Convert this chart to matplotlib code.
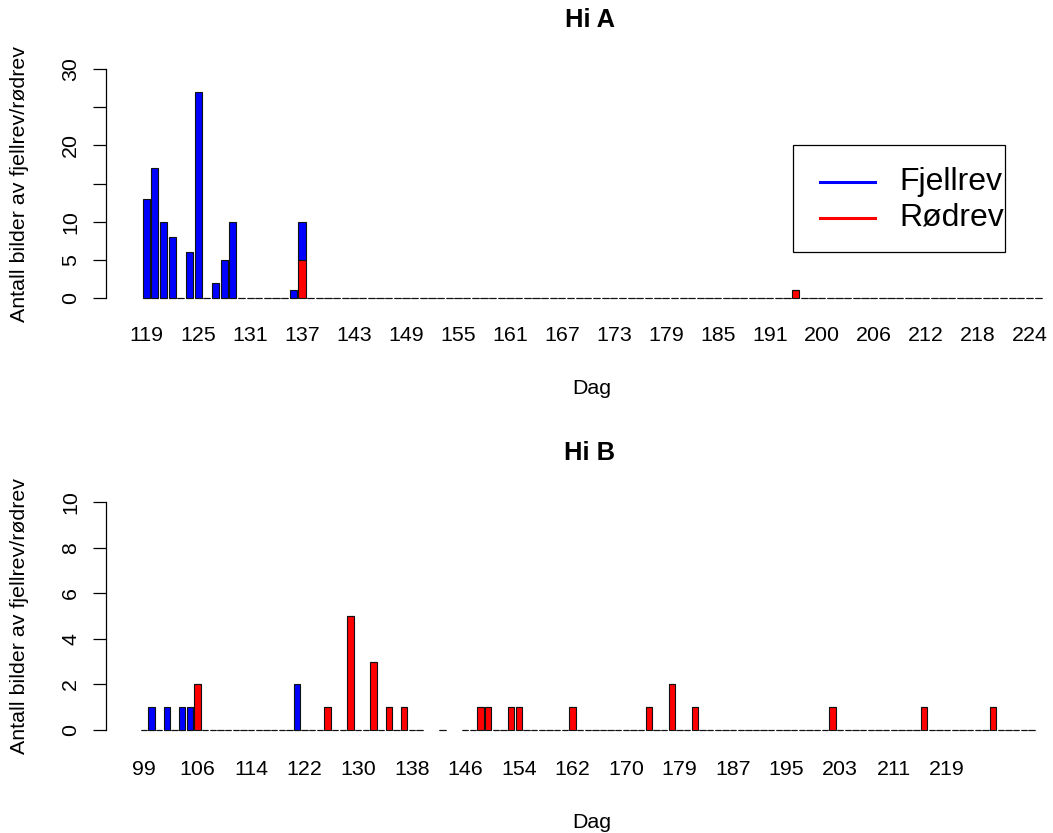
import matplotlib
matplotlib.use('Agg')
import matplotlib.pyplot as plt
from matplotlib.lines import Line2D
from matplotlib.patches import Rectangle
import numpy as np

W, H = 1053, 833
DPI = 100
plt.rcParams['font.family'] = ['Liberation Sans', 'DejaVu Sans']

# ---------------- data: Hi A ----------------
days_a = [119, 120, 121, 122, 123, 124, 125, 126, 127, 128, 129, 130, 131, 132, 133, 134,
          135, 136, 137, 138, 139, 140, 141, 142, 143, 144, 145, 146, 147, 148, 149, 150,
          151, 152, 153, 154, 155, 156, 157, 158, 159, 160, 161, 162, 163, 164, 165, 166,
          167, 168, 169, 170, 171, 172, 173, 174, 175, 176, 177, 178, 179, 180, 181, 182,
          183, 184, 185, 186, 187, 188, 189, 190, 191, 192, 193, 195, 196, 198, 200, 201,
          202, 203, 204, 205, 206, 207, 208, 209, 210, 211, 212, 213, 214, 215, 216, 217,
          218, 219, 220, 221, 222, 223, 224, 225]
fjell_a_days = [119, 120, 121, 122, 124, 125, 127, 128, 129, 136, 137]
fjell_a_vals = [13, 17, 10, 8, 6, 27, 2, 5, 10, 1, 5]
rod_a_days = [137, 195]
rod_a_vals = [5, 1]
xlab_a = [119, 125, 131, 137, 143, 149, 155, 161, 167, 173, 179, 185, 191, 200, 206,
          212, 218, 224]
yticks_a = [0, 5, 10, 15, 20, 25, 30]
ylabels_a = ['0', '5', '10', '', '20', '', '30']

# ---------------- data: Hi B ----------------
days_b = [99, 100, 101, 102, 103, 104, 105, 106,
          107, 108, 109, 111, 112, 113, 114,
          115, 116, 118, 119, 120, 121, 122,
          123, 124, 126, 127, 128, 129, 130,
          131, 132, 133, 134, 135, 137, 138,
          139, 140, 141, 142, 143, 145, 146,
          147, 148, 149, 150, 151, 153, 154,
          155, 156, 157, 158, 159, 161, 162,
          163, 164, 165, 166, 167, 169, 170,
          171, 172, 173, 175, 176, 178, 179,
          180, 181, 182, 183, 184, 186, 187,
          188, 189, 190, 191, 192, 194, 195,
          196, 197, 198, 199, 200, 202, 203,
          204, 205, 206, 207, 208, 210, 211,
          212, 213, 214, 215, 216, 218, 219,
          220, 221, 222, 223, 224, 225, 226, 227, 228, 229, 230]
missing_b = [140, 141, 143, 145]
fjell_b_days = [100, 102, 104, 105, 121]
fjell_b_vals = [1, 1, 1, 1, 2]
rod_b_days = [106, 126, 129, 132, 134, 137, 148, 149, 153, 154, 162, 173, 178, 181,
              202, 215, 225]
rod_b_vals = [2, 1, 5, 3, 1, 1, 1, 1, 1, 1, 1, 1, 2, 1, 1, 1, 1]
xlab_b = [99, 106, 114, 122, 130, 138, 146, 154, 162, 170, 179, 187, 195, 203, 211, 219]
yticks_b = [0, 2, 4, 6, 8, 10]
ylabels_b = ['0', '2', '4', '6', '8', '10']

series_names = ['Fjellrev', 'Rødrev']
series_colors = ['blue', 'red']

FS = 15.4      # R cex=1 at this resolution
FS_MAIN = 18.4
FS_LEG = 23

fig = plt.figure(figsize=(W / DPI, H / DPI), dpi=DPI)


def fx(x):
    return x / W


def fy(y):
    return 1 - y / H


def panel(top, bottom, days, fd, fv, rd, rv, missing, xlab, yt, yl, ylim, c0, s,
          title, ylab_y, title_y, dag_y, xpad):
    left_px, right_px = 106, 1075
    ax = fig.add_axes([fx(left_px), fy(bottom), (right_px - left_px) / W,
                       (bottom - top) / H])
    n = len(days)
    pos = {d: i for i, d in enumerate(days)}
    fj = np.zeros(n)
    rdv = np.zeros(n)
    for d, v in zip(fd, fv):
        fj[pos[d]] = v
    for d, v in zip(rd, rv):
        rdv[pos[d]] = v
    keep = np.array([d not in missing for d in days])
    idx = np.arange(n)
    bw = 1 / 1.2
    ax.bar(idx[keep], rdv[keep], width=bw, color=series_colors[1],
           edgecolor='#111111', linewidth=0.8, clip_on=False)
    ax.bar(idx[keep], fj[keep], bottom=rdv[keep], width=bw, color=series_colors[0],
           edgecolor='#111111', linewidth=0.8, clip_on=False)
    ax.set_xlim((left_px - c0) / s, (right_px - c0) / s)
    ax.set_ylim(*ylim)
    for sp in ['top', 'right', 'bottom']:
        ax.spines[sp].set_visible(False)
    ax.spines['left'].set_bounds(yt[0], yt[-1])
    ax.spines['left'].set_linewidth(0.9)
    ax.set_yticks(yt)
    ax.set_yticklabels(yl, rotation=90, va='center', fontsize=FS)
    ax.tick_params(axis='y', length=9.2, width=0.9, pad=9.5)
    ax.set_xticks([pos[d] for d in xlab])
    ax.set_xticklabels([str(d) for d in xlab], fontsize=FS)
    ax.tick_params(axis='x', length=0, pad=xpad)
    ax.set_facecolor('none')
    fig.text(fx(590), fy(title_y), title, ha='center', va='center',
             fontsize=FS_MAIN, fontweight='bold')
    fig.text(fx(592), fy(dag_y), 'Dag', ha='center', va='center', fontsize=FS)
    fig.text(fx(20), fy(ylab_y), 'Antall bilder av fjellrev/rødrev', rotation=90,
             ha='center', va='center', fontsize=FS)
    return ax


ax1 = panel(60, 307, days_a, fjell_a_days, fjell_a_vals, rod_a_days, rod_a_vals, [],
            xlab_a, yticks_a, ylabels_a, (-1.2, 31.2), 146.2, 8.66,
            'Hi A', 183.5, 20, 388, 14)
ax2 = panel(493.2, 739.1, days_b, fjell_b_days, fjell_b_vals, rod_b_days, rod_b_vals,
            missing_b, xlab_b, yticks_b, ylabels_b, (-0.4, 10.4), 144.0, 7.65,
            'Hi B', 616, 453, 822, 15.4)

# legend drawn R-style (box, line segments, labels)
box_l, box_t, box_r, box_b = 793, 145, 1005, 252
fig.patches.append(Rectangle((fx(box_l), fy(box_b)), fx(box_r) - fx(box_l),
                             fy(box_t) - fy(box_b), transform=fig.transFigure,
                             facecolor='white', edgecolor='black', linewidth=0.9))
for k, (name, col) in enumerate(zip(series_names, series_colors)):
    yy = 182 + 36 * k
    fig.add_artist(Line2D([fx(820), fx(875)], [fy(yy), fy(yy)], color=col, lw=2.2,
                          transform=fig.transFigure))
    fig.text(fx(899), fy(yy), name, ha='left', va='center', fontsize=FS_LEG)

fig.savefig('out.png', dpi=DPI)
